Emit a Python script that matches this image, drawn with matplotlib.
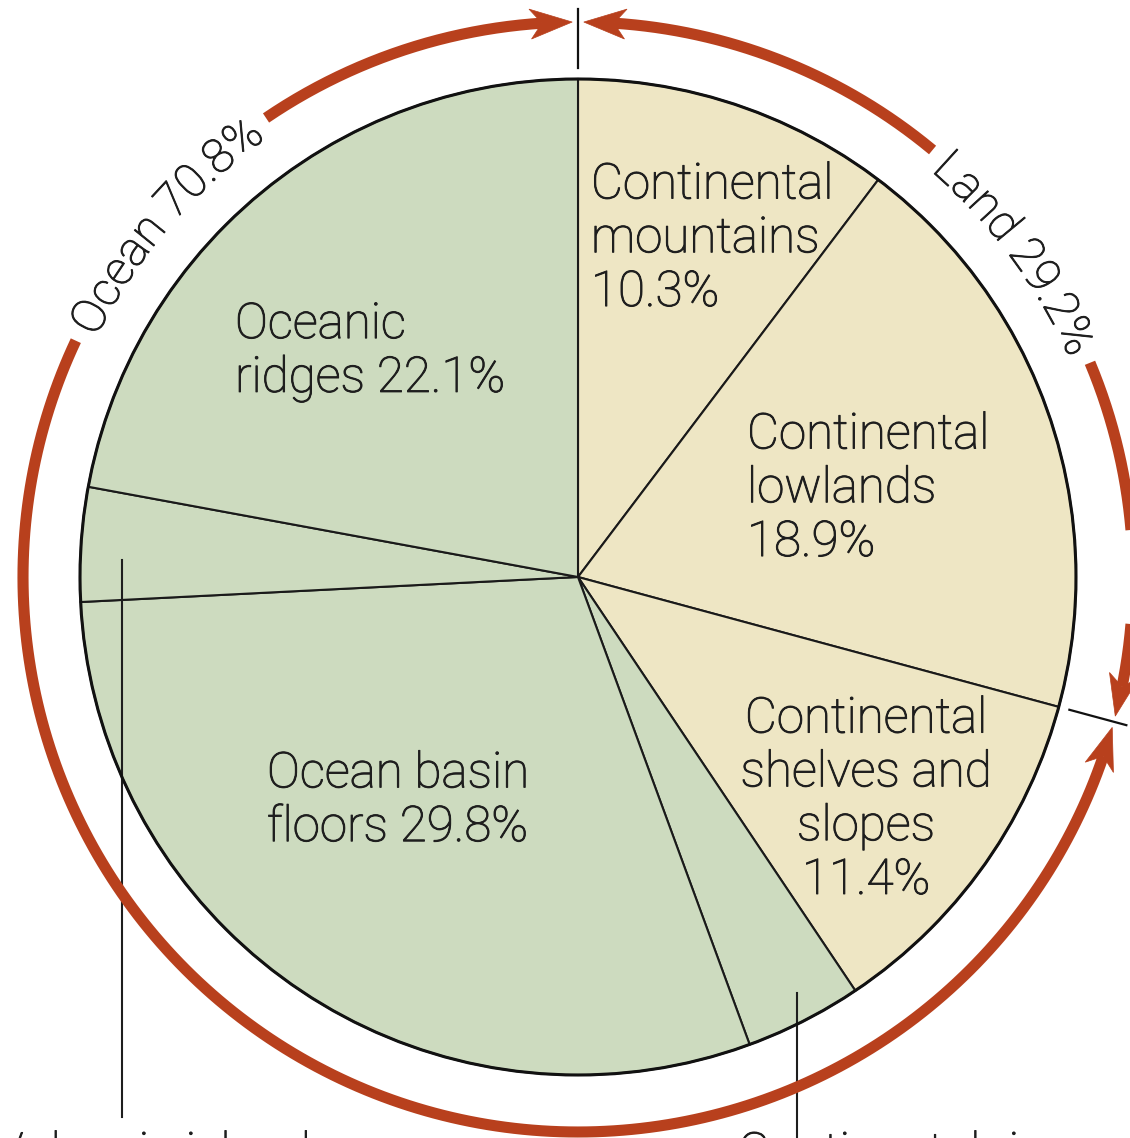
import numpy as np
import matplotlib.pyplot as plt
from matplotlib.patches import Polygon, Circle
from matplotlib.font_manager import FontProperties
import matplotlib.patheffects as pe

# surface of the earth, slices clockwise from the top
slice_labels = ['Continental\nmountains\n10.3%', 'Continental\nlowlands\n18.9%',
                'Continental\nshelves and\nslopes\n11.4%', '', 'Ocean basin\nfloors 29.8%',
                '', 'Oceanic\nridges 22.1%']
shares = [10.3, 18.9, 11.4, 3.8, 29.8, 3.7, 22.1]
continental = [True, True, True, False, False, False, False]
small_labels = ['Continental rise\n3.8%', 'Volcanic islands\nand trenches 3.7%']

group_names = ['Land', 'Ocean']
group_shares = [29.2, 70.8]

GREEN = '#cddbbf'
TAN = '#eee6c4'
RED = '#b8401d'
INK = '#1e1e1e'
FONT = 'Roboto'
WEIGHT = 'light'
# thicken the light face a little
BOLDEN = [pe.withStroke(linewidth=0.7, foreground=INK)]

W, H = 1130, 1138
cx, cy = 578, 561
R = 498          # pie radius
R_ARC = 555      # radius of the red brackets

fig = plt.figure(figsize=(W / 100, H / 100), dpi=100)
ax = fig.add_axes([0, 0, 1, 1])

colors = [TAN if c else GREEN for c in continental]
ax.pie(shares, colors=colors, startangle=90, counterclock=False, radius=R,
       center=(cx, cy), wedgeprops=dict(edgecolor='#1a1a1a', linewidth=1.5))
ax.add_patch(Circle((cx, cy), R, fill=False, ec='#111111', lw=2.2, zorder=3))


def pol(r, t):
    return cx + r * np.sin(t), cy + r * np.cos(t)


# slice labels
fs = 35.5
lab_pos = {0: (591, 899, 'left'), 1: (747, 649, 'left'), 2: (866, 338, 'center'),
           4: (267, 337, 'left'), 6: (235, 786, 'left')}
for i, (x, y, ha) in lab_pos.items():
    ax.text(x, y, slice_labels[i], fontsize=fs, family=FONT, weight=WEIGHT,
            color=INK, ha=ha, va='center', multialignment=ha, linespacing=1.2,
            path_effects=BOLDEN)

# leader lines for the two thin slices, labels run off the bottom
ax.plot([797, 797], [145, 0], color=INK, lw=1.5)
ax.plot([122, 122], [578, 21], color=INK, lw=1.5)
ax.text(738, 7, small_labels[0], fontsize=fs, family=FONT, weight=WEIGHT,
        color=INK, ha='left', va='top', path_effects=BOLDEN)
ax.text(-6, 7, small_labels[1], fontsize=fs, family=FONT, weight=WEIGHT,
        color=INK, ha='left', va='top', path_effects=BOLDEN)

# ticks marking the land / ocean boundaries
b = np.radians(360 * group_shares[0] / 100)
for t in [0.0, b]:
    x0, y0 = pol(509, t)
    x1, y1 = pol(568, t)
    ax.plot([x0, x1], [y0, y1], color='#111111', lw=1.6)

renderer = fig.canvas.get_renderer()


def arc_text(s, theta_mid, size):
    fp = FontProperties(family=FONT, weight=WEIGHT, size=size)
    bar = renderer.get_text_width_height_descent('|', fp, ismath=False)[0]

    def w(t):
        return renderer.get_text_width_height_descent(t + '|', fp, ismath=False)[0] - bar
    total = w(s)
    rb = R_ARC - 0.36 * size * 100 / 72
    for i, ch in enumerate(s):
        if ch == ' ':
            continue
        off = (w(s[:i]) + w(s[:i + 1])) / 2 - total / 2
        t = theta_mid + off / rb
        x, y = pol(rb, t)
        ax.text(x, y, ch, fontproperties=fp, color=INK, ha='center',
                va='baseline', rotation=-np.degrees(t), rotation_mode='anchor',
                path_effects=BOLDEN)
    half = total / 2 / R_ARC
    return theta_mid - half, theta_mid + half


HEAD_L, HEAD_W = 42, 15


def bracket(t0, t1, head0, head1):
    t = np.linspace(t0, t1, 200)
    x, y = pol(R_ARC, t)
    ax.plot(x, y, color=RED, lw=8, solid_capstyle='butt')
    for tip, d in [(head0, -1), (head1, 1)]:
        if tip is None:
            continue
        tb = tip - d * HEAD_L / R_ARC
        tn = tip - d * 0.72 * HEAD_L / R_ARC
        pts = [pol(R_ARC, tip), pol(R_ARC + HEAD_W, tb), pol(R_ARC, tn),
               pol(R_ARC - HEAD_W, tb)]
        ax.add_patch(Polygon(np.array(pts), closed=True, fc=RED, ec=RED, lw=0.5))


gap = np.radians(0.6)
pad = 16 / R_ARC
tsize = 34
head_len = 0.72 * HEAD_L / R_ARC

# land bracket, from the top tick to the boundary tick
lt0, lt1 = arc_text(f'{group_names[0]} {group_shares[0]}%', np.radians(53.5), tsize)
bracket(gap + head_len, lt0 - pad, gap, None)
bracket(lt1 + pad, b - gap - head_len, None, b - gap)

# ocean bracket, from the boundary tick round to the top
ot0, ot1 = arc_text(f'{group_names[1]} {group_shares[1]}%', np.radians(310.5), tsize)
bracket(b + gap + head_len, ot0 - pad, b + gap, None)
bracket(ot1 + pad, 2 * np.pi - gap - head_len, None, 2 * np.pi - gap)

ax.set_xlim(0, W)
ax.set_ylim(0, H)
ax.set_aspect('equal')
ax.axis('off')

fig.savefig('out.png', dpi=100, facecolor='white')
